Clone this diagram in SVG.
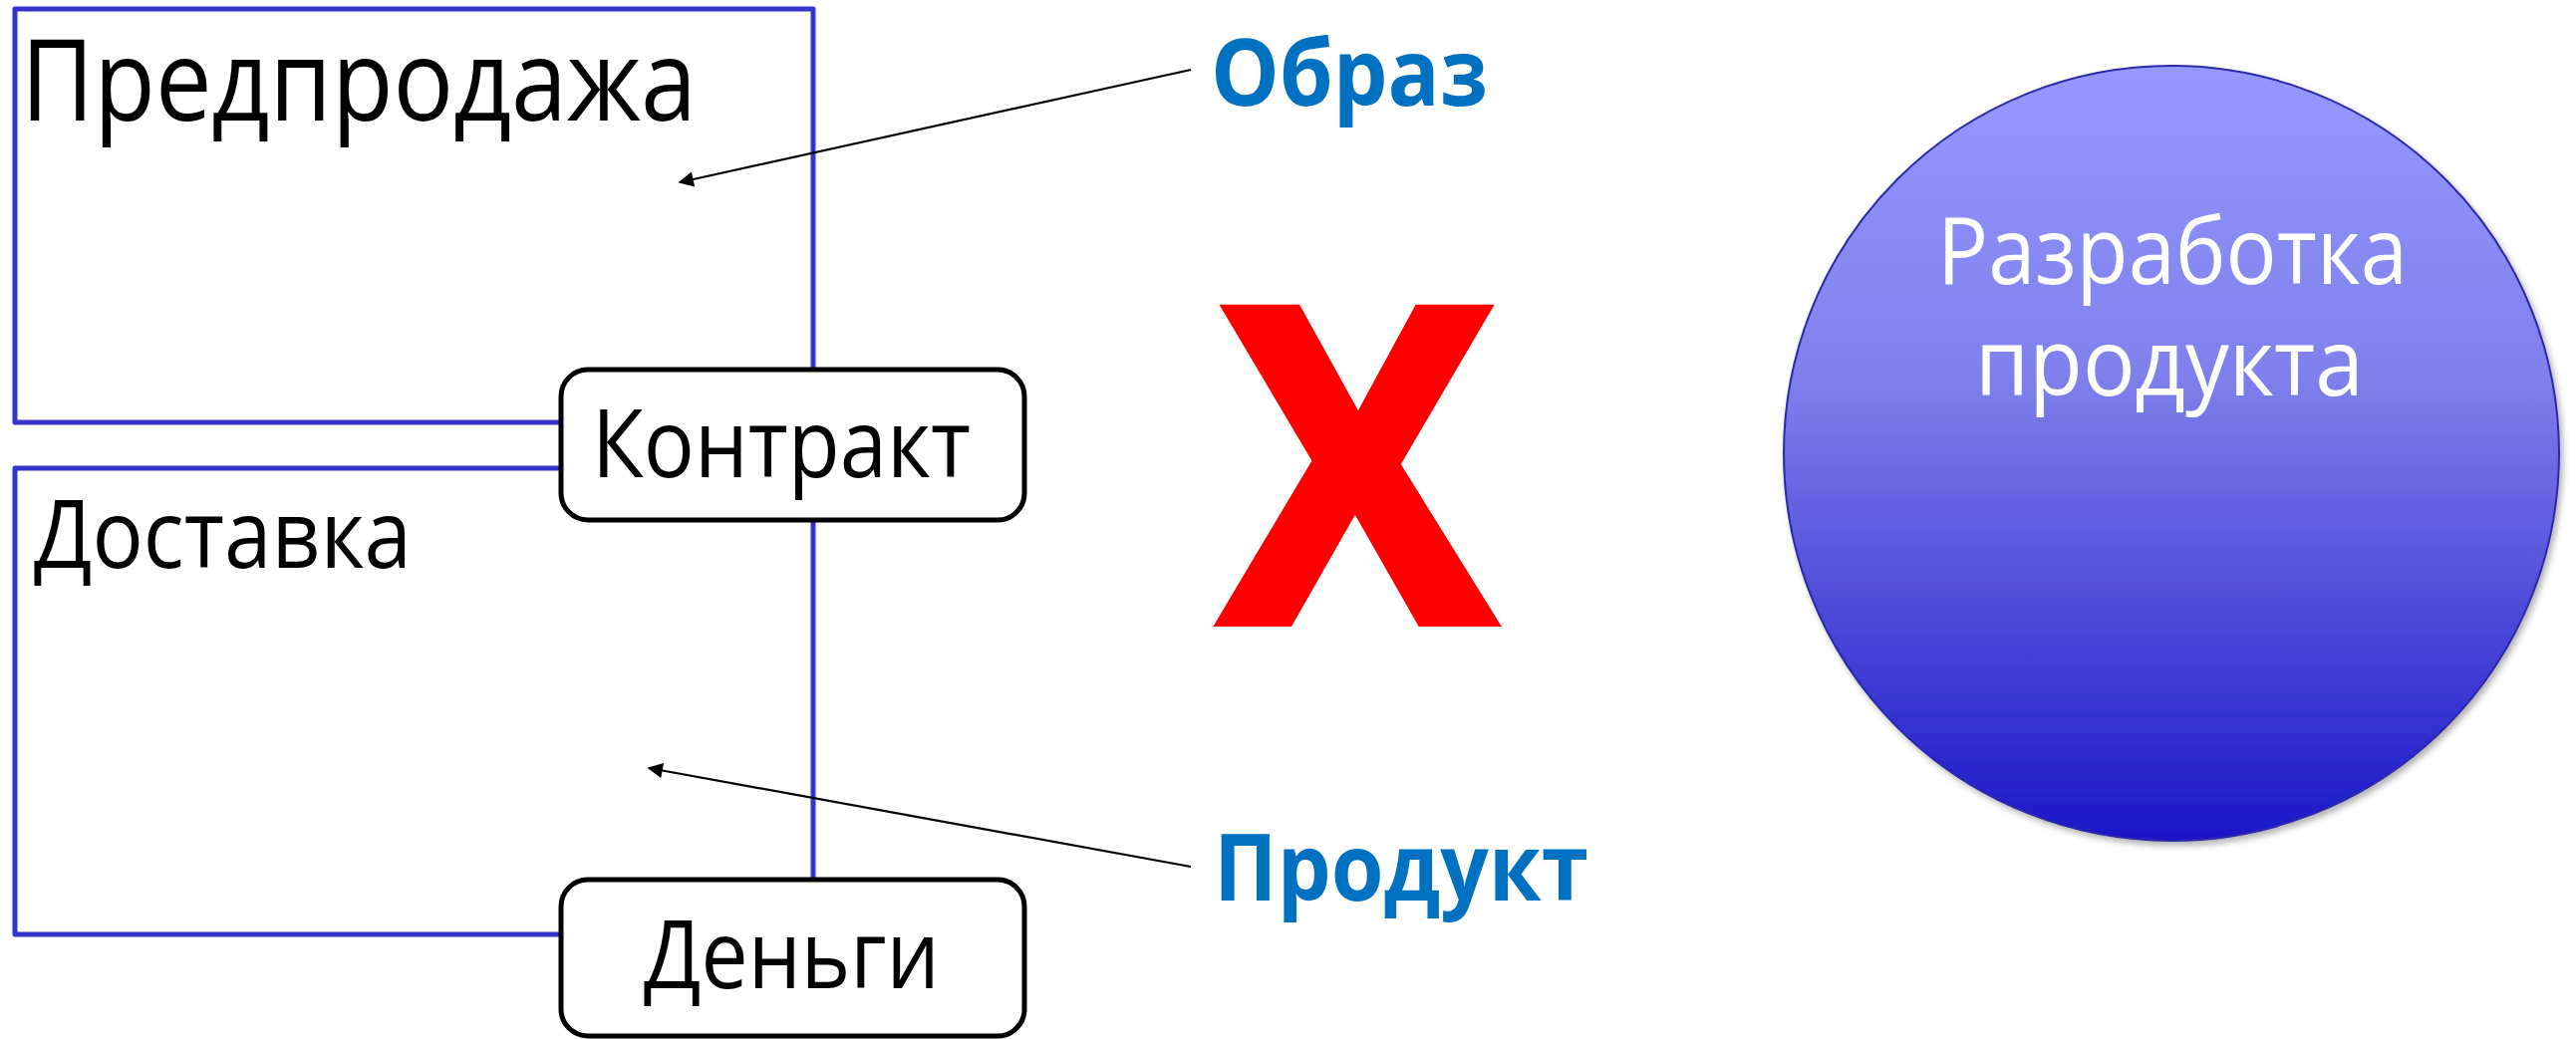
<svg xmlns="http://www.w3.org/2000/svg" width="2585" height="1043" viewBox="0 0 2585 1043">
  <style>
    .frame { fill: none; stroke: #3535CC; stroke-width: 5; stroke-linejoin: round; }
    .box { fill: #FFFFFF; stroke: #000000; stroke-width: 5; }
    .label { font-family: "Open Sans", "Noto Sans", "DejaVu Sans", sans-serif; fill: #000000; }
    .accent { font-family: "Open Sans", "Noto Sans", "DejaVu Sans", sans-serif; font-weight: bold; fill: #0070C0; font-size: 93px; }
    .cross { font-family: "Open Sans", "Noto Sans", "DejaVu Sans", sans-serif; font-weight: bold; fill: #FF0000; stroke: #FF0000; stroke-width: 12; stroke-linejoin: miter; }
    .inner { font-family: "Open Sans", "Noto Sans", "DejaVu Sans", sans-serif; fill: #FFFFFF; font-size: 93px; }
    .pointer { fill: none; stroke: #000000; stroke-width: 2.2; }
  </style>
  <defs>
    <marker id="arrow" viewBox="0 0 10 10" refX="9" refY="5" markerWidth="8" markerHeight="7" markerUnits="strokeWidth" orient="auto">
      <path d="M0,0 L10,5 L0,10 z" fill="#000000"/>
    </marker>
    <linearGradient id="sphereFill" x1="0" y1="0" x2="0" y2="1">
      <stop offset="0" stop-color="#9599FF"/>
      <stop offset="0.4" stop-color="#7F80EC"/>
      <stop offset="1" stop-color="#1A17C8"/>
    </linearGradient>
    <filter id="softShadow" x="-10%" y="-10%" width="125%" height="125%">
      <feDropShadow dx="3" dy="4" stdDeviation="3" flood-color="#000000" flood-opacity="0.3"/>
    </filter>
  </defs>

  <rect width="2585" height="1043" fill="#FFFFFF"/>

  <!-- Presale phase frame -->
  <g id="presale">
    <rect class="frame" x="15" y="9" width="801" height="415"/>
    <text class="label" x="21" y="121" font-size="113" textLength="678" lengthAdjust="spacingAndGlyphs">Предпродажа</text>
  </g>

  <!-- Delivery phase frame -->
  <g id="delivery">
    <rect class="frame" x="15" y="470" width="801" height="468"/>
    <text class="label" x="34" y="570" font-size="96" textLength="379" lengthAdjust="spacingAndGlyphs">Доставка</text>
  </g>

  <!-- Pointers from the side labels -->
  <g id="connectors">
    <line class="pointer" x1="1195" y1="70" x2="682" y2="183" marker-end="url(#arrow)"/>
    <line class="pointer" x1="1195" y1="870" x2="651" y2="771" marker-end="url(#arrow)"/>
  </g>

  <!-- Contract milestone -->
  <g id="contract">
    <rect class="box" x="563" y="371" width="465" height="151" rx="27" ry="27"/>
    <text class="label" x="594" y="479" font-size="96" textLength="380" lengthAdjust="spacingAndGlyphs">Контракт</text>
  </g>

  <!-- Payment milestone -->
  <g id="money">
    <rect class="box" x="563" y="883" width="465" height="157" rx="27" ry="27"/>
    <text class="label" x="646" y="992" font-size="96" textLength="297" lengthAdjust="spacingAndGlyphs">Деньги</text>
  </g>

  <g id="image-label">
    <text class="accent" x="1215" y="106" textLength="278" lengthAdjust="spacingAndGlyphs">Образ</text>
  </g>

  <g id="product-label">
    <text class="accent" x="1218" y="904" textLength="376" lengthAdjust="spacingAndGlyphs">Продукт</text>
  </g>

  <g id="cross-mark">
    <text class="cross" x="0" y="0" font-size="436" text-anchor="middle" transform="translate(1362 623) scale(0.925 1)">X</text>
  </g>

  <!-- Product development sphere -->
  <g id="development">
    <circle cx="2179" cy="455" r="389" fill="url(#sphereFill)" stroke="#2A2AA8" stroke-width="2" filter="url(#softShadow)"/>
    <text class="inner" x="1944" y="285" textLength="472" lengthAdjust="spacingAndGlyphs">Разработка</text>
    <text class="inner" x="1982" y="397" textLength="390" lengthAdjust="spacingAndGlyphs">продукта</text>
  </g>
</svg>
